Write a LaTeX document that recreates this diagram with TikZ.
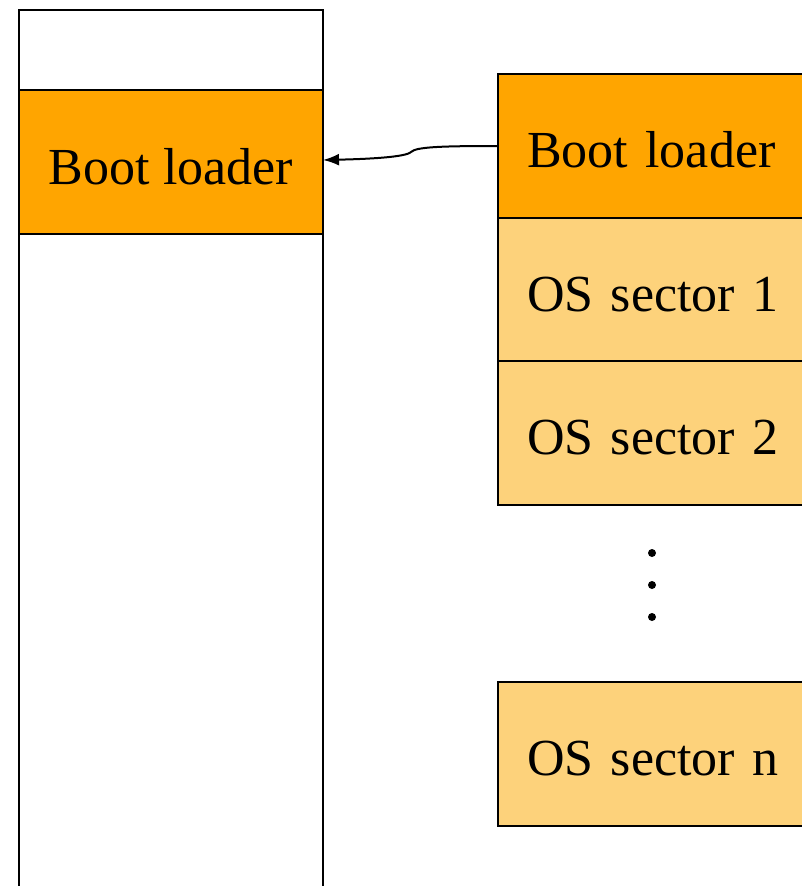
\documentclass[tikz,border=0pt]{standalone}
\usepackage{fontspec}
\setmainfont{Liberation Serif}
\usetikzlibrary{positioning,arrows.meta}
\definecolor{bootorange}{HTML}{FFA500}
\definecolor{sectorfill}{HTML}{FDD27B}
\tikzset{
  block/.style={draw,line width=2pt,outer sep=0pt,minimum height=143.5pt,text height=44pt,text depth=0pt,font=\fontsize{52}{60}\selectfont},
  rblock/.style={block,anchor=north west,text width=294pt,inner xsep=29pt,align=left},
  load/.style={-{Latex[length=16pt,width=12pt]},line width=2pt}
}
\begin{document}
\begin{tikzpicture}[x=1pt,y=-1pt]
\useasboundingbox (0,0) rectangle (801,886);
% memory column on the left
\draw[line width=2pt] (19,900) -- (19,10) -- (323,10) -- (323,900);
\node[block,fill=bootorange,minimum width=304pt] (lboot) at (171,162) {Boot loader};
% disk sectors on the right
\node[rblock,fill=bootorange] (rboot) at (498,74) {Boot loader};
\node[rblock,fill=sectorfill,below=0pt of rboot.south west,anchor=north west] (sec1) {OS sector 1};
\node[rblock,fill=sectorfill,below=0pt of sec1.south west,anchor=north west] (sec2) {OS sector 2};
\node[rblock,fill=sectorfill] (secn) at (498,682) {OS sector n};
\foreach \y in {553,585,617}
  \fill (652,\y) circle (4);
\draw[load] (rboot.west |- 0,146) .. controls (440,146) and (416,147) .. (411,152)
  .. controls (406,157) and (370,159) .. (lboot.east |- 0,160);
\end{tikzpicture}
\end{document}
